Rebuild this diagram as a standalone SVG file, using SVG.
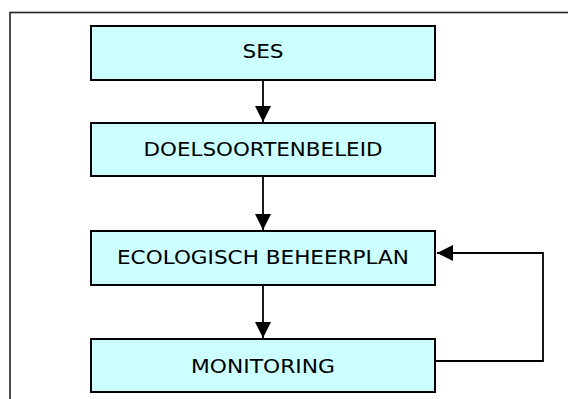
<svg xmlns="http://www.w3.org/2000/svg" width="568" height="399" viewBox="0 0 568 399">
<style>
.box{fill:#CCFFFF;stroke:#000;stroke-width:2}
.lbl{font-family:Verdana,"DejaVu Sans",sans-serif;font-size:19px;fill:#000;text-anchor:middle}
.con{fill:none;stroke:#000;stroke-width:1.8}
</style>
<defs>
<marker id="ah" markerUnits="userSpaceOnUse" markerWidth="16" markerHeight="16" refX="16" refY="8" orient="auto">
<path d="M0,0 L16,8 L0,16 Z" fill="#000"/>
</marker>
</defs>
<rect x="10" y="12.5" width="600" height="420" fill="none" stroke="#222" stroke-width="1.6"/>
<g id="ses"><rect class="box" x="91" y="26" width="344" height="54"/><text class="lbl" x="263" y="58" textLength="41" lengthAdjust="spacingAndGlyphs">SES</text></g>
<g id="doelsoortenbeleid"><rect class="box" x="91" y="123" width="344" height="53"/><text class="lbl" x="263" y="156" textLength="239" lengthAdjust="spacingAndGlyphs">DOELSOORTENBELEID</text></g>
<g id="ecologisch"><rect class="box" x="91" y="231" width="344" height="54"/><text class="lbl" x="263" y="264" textLength="292" lengthAdjust="spacingAndGlyphs">ECOLOGISCH BEHEERPLAN</text></g>
<g id="monitoring"><rect class="box" x="91" y="339" width="344" height="53"/><text class="lbl" x="263" y="373" textLength="144" lengthAdjust="spacingAndGlyphs">MONITORING</text></g>
<g id="connectors">
<line class="con" x1="263" y1="81" x2="263" y2="122" marker-end="url(#ah)"/>
<line class="con" x1="263" y1="177" x2="263" y2="230" marker-end="url(#ah)"/>
<line class="con" x1="263" y1="286" x2="263" y2="338" marker-end="url(#ah)"/>
<polyline class="con" points="436,361 543,361 543,253 437,253" marker-end="url(#ah)"/>
</g>
</svg>
